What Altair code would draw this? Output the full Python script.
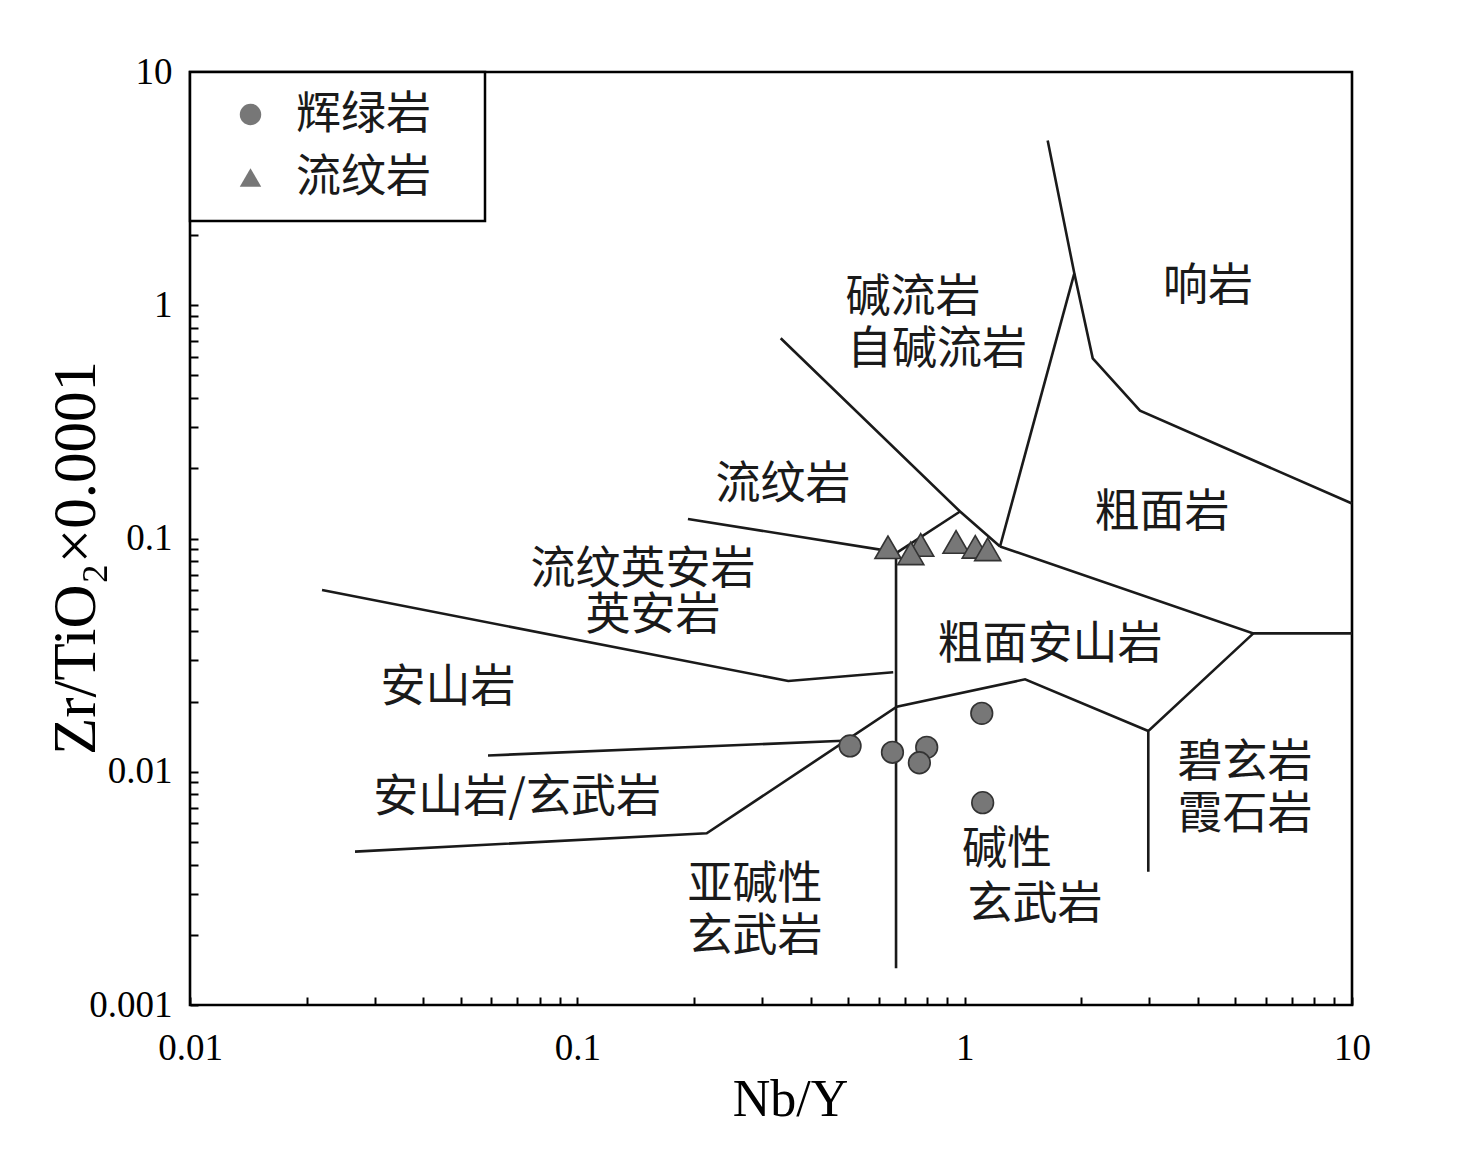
import altair as alt
import pandas as pd

# ---------------- data ----------------
# sample points (Nb/Y, Zr/TiO2*0.0001)
gabbro_x = [0.506, 0.651, 0.798, 0.764, 1.107, 1.113]
gabbro_y = [0.0129, 0.01212, 0.01273, 0.01093, 0.01781, 0.00737]
rhyolite_x = [0.634, 0.770, 0.726, 0.950, 1.065, 1.147]
rhyolite_y = [0.0917, 0.0938, 0.0864, 0.0966, 0.0921, 0.0899]
series_names = ["辉绿岩", "流纹岩"]

# field boundaries (Winchester & Floyd, 1977)
boundary_x = [
    [0.335, 0.973, 1.234],
    [0.193, 0.670],
    [0.670, 0.973],
    [1.234, 1.919],
    [1.638, 1.919, 2.141, 2.836, 10.0],
    [1.234, 5.563, 10.0],
    [5.563, 2.979, 2.979],
    [2.979, 1.432, 0.668, 0.2158, 0.02667],
    [0.02192, 0.3504, 0.654],
    [0.0588, 0.486],
    [0.665, 0.665],
]
boundary_y = [
    [0.722, 0.1305, 0.0924],
    [0.1213, 0.0872],
    [0.0872, 0.1305],
    [0.0924, 1.371],
    [5.08, 1.371, 0.592, 0.353, 0.1412],
    [0.0924, 0.0392, 0.0392],
    [0.0392, 0.01495, 0.003727],
    [0.01495, 0.0249, 0.0190, 0.005446, 0.004544],
    [0.0601, 0.0245, 0.0267],
    [0.01174, 0.01358],
    [0.0872, 0.001437],
]

# field names
field_text = ["响岩", "碱流岩", "自碱流岩", "流纹岩", "粗面岩", "流纹英安岩", "英安岩",
              "粗面安山岩", "安山岩", "安山岩/玄武岩", "碧玄岩", "霞石岩",
              "碱性", "玄武岩", "亚碱性", "玄武岩"]
field_x = [4.249, 0.7357, 0.8485, 0.3396, 3.232, 0.1477, 0.1568,
           1.661, 0.04636, 0.0699, 5.295, 5.295,
           1.286, 1.518, 0.2876, 0.2876]
field_y = [1.197, 1.074, 0.6427, 0.1696, 0.1286, 0.0733, 0.04655,
           0.03495, 0.02286, 0.00772, 0.01090, 0.006527,
           0.004618, 0.002684, 0.003269, 0.001956]

# axis ticks
x_ticks = [round(m * 10.0 ** e, 10) for e in (-2, -1, 0) for m in range(1, 10)] + [10.0]
y_ticks = [round(m * 10.0 ** e, 10) for e in (-3, -2, -1, 0) for m in range(1, 10)] + [10.0]
x_labels = [0.01, 0.1, 1, 10]
y_labels = [0.001, 0.01, 0.1, 1, 10]

# ---------------- tables ----------------
pts = pd.DataFrame({
    "x": gabbro_x + rhyolite_x,
    "y": gabbro_y + rhyolite_y,
    "type": [series_names[0]] * len(gabbro_x) + [series_names[1]] * len(rhyolite_x),
})
rows = []
for i, (xs, ys) in enumerate(zip(boundary_x, boundary_y)):
    for j, (a, b) in enumerate(zip(xs, ys)):
        rows.append({"seg": i, "idx": j, "x": a, "y": b})
lines_df = pd.DataFrame(rows)
text_df = pd.DataFrame({"x": field_x, "y": field_y, "t": field_text})

SERIF = "Liberation Serif"
CJK = "Noto Sans CJK SC"

xscale = alt.Scale(type="log", domain=[0.01, 10], nice=False)
yscale = alt.Scale(type="log", domain=[0.001, 10], nice=False)


def lbl_expr(vals):
    arr = ",".join(repr(float(v)) for v in vals)
    return f"indexof([{arr}], datum.value) >= 0 ? format(datum.value, '~g') : ''"


xaxis = alt.Axis(values=x_ticks, labelExpr=lbl_expr(x_labels), title="Nb/Y",
                 titleFont=SERIF, titleFontSize=52, titleFontWeight="normal",
                 titleColor="black", titleX=600, titleY=118, titleBaseline="alphabetic",
                 labelFont=SERIF, labelFontSize=37, labelColor="black",
                 labelPadding=25, labelOverlap=False, labelFlush=False,
                 offset=-8, tickSize=8, tickWidth=2, tickColor="black",
                 domain=False, grid=False)
yaxis = alt.Axis(values=y_ticks, labelExpr=lbl_expr(y_labels), title="Zr/TiO₂×0.0001",
                 titleFont=SERIF, titleFontSize=61, titleFontWeight="normal",
                 titleColor="black", titleX=-104, titleY=485.5, titleBaseline="alphabetic",
                 labelFont=SERIF, labelFontSize=37, labelColor="black",
                 labelPadding=18, labelOverlap=False, labelFlush=False,
                 offset=-8, tickSize=8, tickWidth=2, tickColor="black",
                 domain=False, grid=False)

base_lines = alt.Chart(lines_df).mark_line(color="#1a1a1a", strokeWidth=2.6).encode(
    x=alt.X("x:Q", scale=xscale, axis=xaxis),
    y=alt.Y("y:Q", scale=yscale, axis=yaxis),
    detail="seg:N",
    order="idx:Q",
)

labels = alt.Chart(text_df).mark_text(font=CJK, fontSize=45, color="#1a1a1a",
                                      align="center", baseline="middle").encode(
    x=alt.X("x:Q", scale=xscale),
    y=alt.Y("y:Q", scale=yscale),
    text="t:N",
)

points = alt.Chart(pts).mark_point(filled=False, fill="#777777", fillOpacity=1,
                                   stroke="#333333", strokeWidth=1.6, opacity=1).encode(
    x=alt.X("x:Q", scale=xscale),
    y=alt.Y("y:Q", scale=yscale),
    shape=alt.Shape("type:N",
                    scale=alt.Scale(domain=series_names, range=["circle", "triangle-up"]),
                    legend=alt.Legend(title=None, orient="top-left", offset=0,
                                      padding=20, symbolOffset=18, labelOffset=23,
                                      rowPadding=17, symbolSize=460,
                                      symbolFillColor="#777777",
                                      symbolStrokeColor="#333333",
                                      symbolStrokeWidth=1.6,
                                      labelFont=CJK, labelFontSize=45,
                                      labelColor="#1a1a1a", labelLimit=400,
                                      labelExpr="datum.label + '\u2800'",
                                      fillColor="white", strokeColor="black")),
    size=alt.condition("datum.type == '流纹岩'", alt.value(680), alt.value(470)),
)

chart = alt.layer(base_lines, labels, points).properties(
    width=1162, height=933,
    autosize=alt.AutoSizeParams(type="none"),
    padding={"left": 182, "top": 64, "right": 60, "bottom": 135},
    background="white",
).configure_view(stroke="black", strokeWidth=2.6).configure_legend(strokeWidth=2.5)

chart.save("out.html", embed_options={"renderer": "svg", "actions": False})
